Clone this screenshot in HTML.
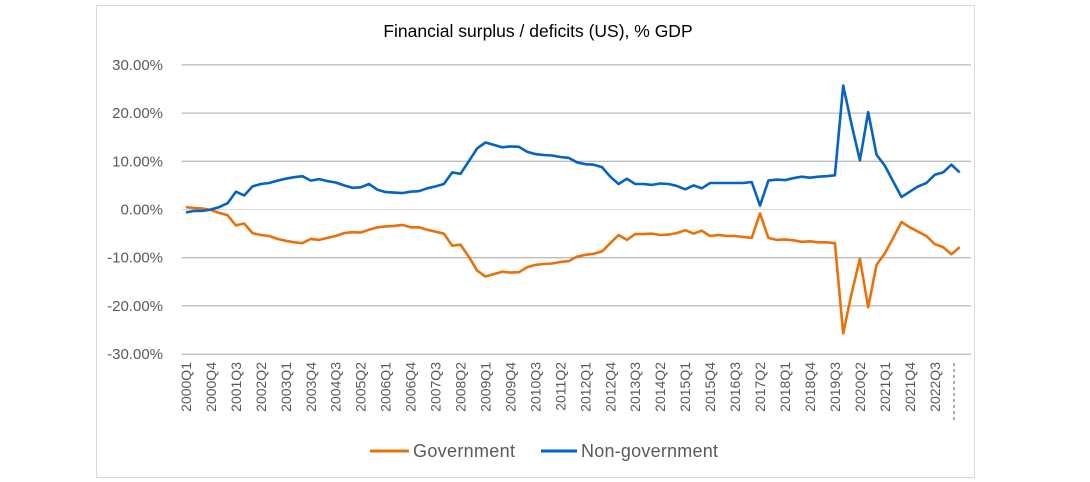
<!DOCTYPE html>
<html><head><meta charset="utf-8"><style>
body{margin:0;background:#fff;font-family:"Liberation Sans",sans-serif;}
svg{display:block}
</style></head><body>
<svg width="1090" height="482" id="c" font-family="Liberation Sans, sans-serif">
<rect x="96.5" y="5.5" width="878" height="472" fill="#fff" stroke="#d9d9d9"/>
<text x="538" y="37" text-anchor="middle" font-size="17.5" fill="#000">Financial surplus / deficits (US), % GDP</text>
<g id="grid"></g><g id="xl"></g><g id="lines"></g>
<g>
<line x1="370" y1="451" x2="409" y2="451" stroke="#E8710A" stroke-width="3"/>
<text x="413" y="457" font-size="18" fill="#595959" textLength="102">Government</text>
<line x1="541" y1="451" x2="577" y2="451" stroke="#0563C1" stroke-width="3"/>
<text x="581" y="457" font-size="18" fill="#595959" textLength="137">Non-government</text>
</g>
</svg>
<script>
const gov=[0.5,0.3,0.2,-0.1,-0.7,-1.2,-3.3,-2.9,-4.9,-5.3,-5.5,-6.1,-6.5,-6.8,-7.0,-6.1,-6.3,-5.9,-5.5,-4.9,-4.7,-4.8,-4.2,-3.7,-3.5,-3.4,-3.2,-3.7,-3.7,-4.2,-4.6,-5.0,-7.5,-7.3,-9.8,-12.7,-13.9,-13.4,-12.9,-13.1,-13.0,-12.0,-11.5,-11.3,-11.2,-10.9,-10.7,-9.8,-9.4,-9.2,-8.7,-7.0,-5.3,-6.3,-5.1,-5.1,-5.0,-5.3,-5.2,-4.9,-4.3,-5.0,-4.4,-5.5,-5.3,-5.5,-5.5,-5.7,-5.9,-0.8,-5.9,-6.3,-6.2,-6.4,-6.7,-6.6,-6.8,-6.8,-7.0,-25.7,-17.4,-10.2,-20.3,-11.5,-9.1,-5.9,-2.6,-3.7,-4.6,-5.5,-7.2,-7.8,-9.3,-7.8];
const nongov=[-0.6,-0.3,-0.3,0,0.5,1.3,3.7,2.9,4.8,5.3,5.5,6.0,6.4,6.7,6.9,6.0,6.3,5.9,5.6,5.0,4.5,4.6,5.3,4.1,3.6,3.5,3.4,3.7,3.8,4.4,4.8,5.3,7.7,7.4,10.0,12.7,13.9,13.4,12.9,13.1,13.0,12.0,11.5,11.3,11.2,10.9,10.7,9.8,9.4,9.3,8.8,6.8,5.3,6.4,5.3,5.3,5.1,5.4,5.3,4.9,4.2,5.0,4.4,5.5,5.5,5.5,5.5,5.5,5.7,0.8,6.0,6.2,6.1,6.5,6.8,6.6,6.8,6.9,7.1,25.7,17.6,10.2,20.2,11.4,9.1,5.8,2.6,3.7,4.8,5.5,7.2,7.7,9.3,7.7];
const yTicks=[30,20,10,0,-10,-20,-30];
const NS='http://www.w3.org/2000/svg';
const L=181.8,R=971,STEP=8.32;
const X=i=>L+STEP*(i+0.5);
const Y=v=>209.5-v*4.82;
function mk(t,a,p){const e=document.createElementNS(NS,t);for(const k in a)e.setAttribute(k,a[k]);p.appendChild(e);return e;}
const grid=document.getElementById('grid');
yTicks.forEach(v=>{
 const l=mk('line',{x1:L,x2:R,y1:Y(v),y2:Y(v),stroke:(v===0?'#d9d9d9':'#a6a6a6'),'stroke-width':1},grid);
 
 
 const t=mk('text',{x:163,y:Y(v)+5,'text-anchor':'end','font-size':15,fill:'#595959'},grid);
 t.textContent=v.toFixed(2)+'%';
 
 
});
const xl=document.getElementById('xl');
for(let i=0;i<=90;i+=3){
 const yr=2000+Math.floor(i/4),q=i%4+1;
 const x=X(i)+5;
 const t=mk('text',{x:x,y:362,'text-anchor':'end','font-size':14,fill:'#595959',transform:`rotate(-90 ${x} 362)`},xl);
 t.textContent=yr+'Q'+q;
 
 
}
const dl=mk('line',{x1:954,x2:954,y1:363,y2:420,stroke:'#595959','stroke-dasharray':'3,3'},xl);


const lines=document.getElementById('lines');
[[gov,'#E8710A','government-line'],[nongov,'#0563C1','nongovernment-line']].forEach(([d,c,n])=>{
 const p=mk('polyline',{points:d.map((v,i)=>X(i).toFixed(1)+','+Y(v).toFixed(1)).join(' '),fill:'none',stroke:c,'stroke-width':2.6,'stroke-linejoin':'round'},lines);
 
 
});
</script>
</body></html>
